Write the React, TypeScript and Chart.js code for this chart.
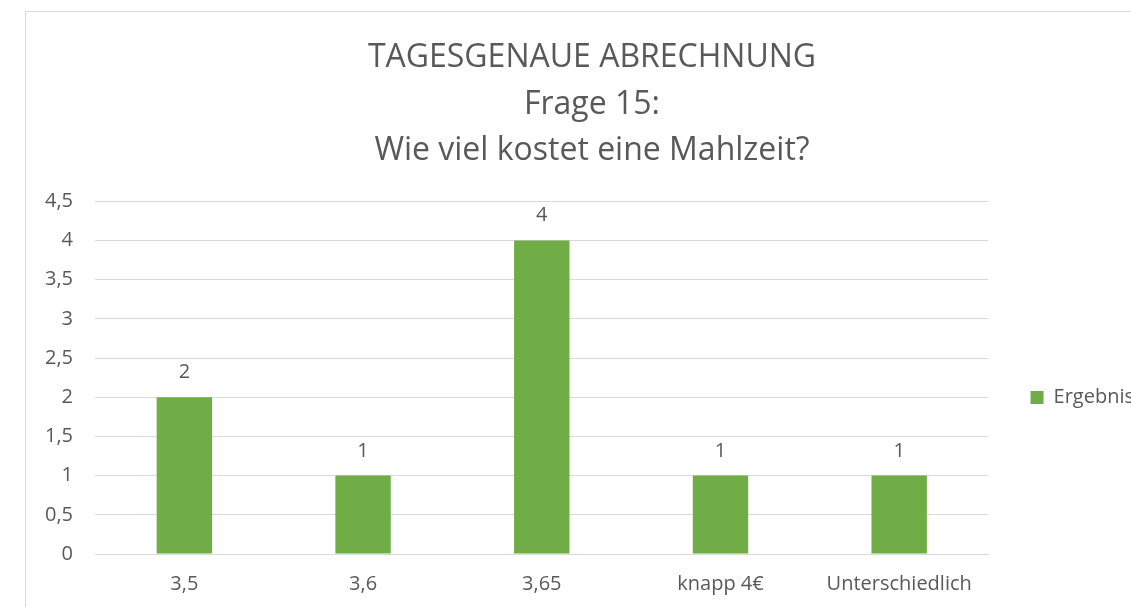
import React, { useEffect, useRef } from "react";
import { Chart, registerables } from "chart.js";

Chart.register(...registerables);

const titleLines = ["TAGESGENAUE ABRECHNUNG", "Frage 15:", "Wie viel kostet eine Mahlzeit?"];
const categories = ["3,5", "3,6", "3,65", "knapp 4€", "Unterschiedlich"];
const seriesName = "Ergebnis";
const values = [2, 1, 4, 1, 1];
const yMax = 4.5;
const yStep = 0.5;

const FONT = "'Open Sans', sans-serif";
const TEXT = "#595959";
const GREEN = "#70ad47";
const GRID = "#d9d9d9";

const valueLabels = {
  id: "valueLabels",
  afterDatasetsDraw(chart: any) {
    const ctx = chart.ctx;
    ctx.save();
    ctx.font = `20px ${FONT}`;
    ctx.fillStyle = TEXT;
    ctx.textAlign = "center";
    ctx.textBaseline = "alphabetic";
    chart.getDatasetMeta(0).data.forEach((bar: any, i: number) => {
      ctx.fillText(String(values[i]), bar.x, bar.y - 19);
    });
    ctx.restore();
  },
};

export default function App() {
  const ref = useRef<HTMLCanvasElement | null>(null);
  useEffect(() => {
    if (!ref.current) return;
    const chart = new Chart(ref.current, {
      type: "bar",
      data: {
        labels: categories,
        datasets: [
          {
            label: seriesName,
            data: values,
            backgroundColor: GREEN,
            categoryPercentage: 1,
            barPercentage: 0.31,
          },
        ],
      },
      options: {
        animation: false,
        responsive: false,
        layout: { padding: { left: 14, top: 23, right: 0, bottom: 0 } },
        plugins: {
          title: {
            display: true,
            text: titleLines,
            color: TEXT,
            font: { family: FONT, size: 32, weight: "normal", lineHeight: 1.45 },
            padding: { top: 0, bottom: 27 },
          },
          legend: {
            position: "right",
            fullSize: false,
            title: { display: true, text: " ", font: { size: 10, lineHeight: 1.2 }, padding: { top: 14, bottom: 14 } },
            labels: {
              color: TEXT,
              font: { family: FONT, size: 20 },
              boxWidth: 13,
              boxHeight: 13,
              padding: 42,
            },
          },
          tooltip: { enabled: false },
        },
        scales: {
          x: {
            grid: { display: false, drawTicks: false },
            border: { display: true, color: GRID },
            ticks: { color: TEXT, font: { family: FONT, size: 20 }, padding: 18 },
            afterFit: (s: any) => {
              s.height = 44;
            },
          },
          y: {
            min: 0,
            max: yMax,
            grid: { color: GRID, drawTicks: false },
            border: { display: false },
            ticks: {
              stepSize: yStep,
              color: TEXT,
              font: { family: FONT, size: 20 },
              padding: 22,
              callback: (v: any) => String(v).replace(".", ","),
            },
            afterFit: (s: any) => {
              s.width = 55;
            },
          },
        },
      },
      plugins: [valueLabels],
    });
    return () => chart.destroy();
  }, []);
  return (
    <div style={{ position: "fixed", left: 0, top: 0, width: 1131, height: 607, overflow: "hidden", background: "#fff" }}>
      <div style={{ position: "absolute", left: 25, top: 11, width: 1200, height: 700, borderLeft: `1px solid ${GRID}`, borderTop: `1px solid ${GRID}` }}>
        <canvas ref={ref} width={1118} height={586} style={{ display: "block" }} />
      </div>
    </div>
  );
}
